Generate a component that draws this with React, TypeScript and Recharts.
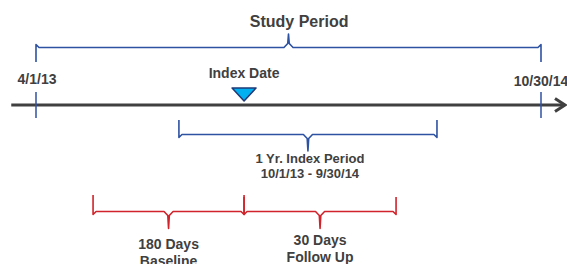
import { ComposedChart, Line, Scatter, XAxis, YAxis } from "recharts";

// timeline positions are in % of the study period (not to scale)
const endDates = ["4/1/13", "10/30/14"];
const endPos = [0, 100];

const indexDateLabel = "Index Date";
const indexDatePos = 41.2;

const periodTitles = ["Study Period", "1 Yr. Index Period", "180 Days", "30 Days"];
const periodSubtitles = ["", "10/1/13 - 9/30/14", "Baseline", "Follow Up"];
const periodStart = [0, 28.3, 11.3, indexDatePos];
const periodEnd = [100, 79.4, indexDatePos, 71.3];

const W = 567;
const H = 264;
const PX = 5.05; // pixels per timeline unit
const X0 = 36; // pixel of 0%
const X_DOMAIN: [number, number] = [-X0 / PX, (W - X0) / PX];

const INK = "#404040";
const BLUE = "#2E52A2";
const RED = "#D0232B";
const FONT = "'Liberation Sans', Arial, sans-serif";

const AXIS_Y = 105;
// tip, bar, cusp, label row, font, colour for each period brace
const braceRows = [
  { tip: 62, bar: 47.5, cusp: 34, label: 21, color: BLUE, dx: 2.1, size: 16, gap: 17 },
  { tip: 120, bar: 134.5, cusp: 151, label: 158.5, color: BLUE, dx: 0.4, size: 13, gap: 15 },
  { tip: 195, bar: 211.5, cusp: 228.5, label: 244, color: RED, dx: 0, size: 14, gap: 17 },
  { tip: 197, bar: 211.5, cusp: 228.5, label: 240, color: RED, dx: 0, size: 14, gap: 17 },
];

function bracePoints(start: number, end: number, tip: number, bar: number, cusp: number) {
  const dir = cusp < bar ? -1 : 1;
  const mid = (start + end) / 2;
  const r = 0.6;
  return [
    { x: start, y: tip },
    { x: start, y: bar + dir * 3 },
    { x: start + r, y: bar },
    { x: mid - 0.9, y: bar },
    { x: mid - 0.15, y: bar + dir * 4 },
    { x: mid, y: cusp },
    { x: mid + 0.15, y: bar + dir * 4 },
    { x: mid + 0.9, y: bar },
    { x: end - r, y: bar },
    { x: end, y: bar + dir * 3 },
    { x: end, y: tip },
  ];
}

function textShape(lines: string[], size: number, gap: number) {
  return (props: any) => (
    <text
      x={props.cx}
      y={props.cy}
      textAnchor="middle"
      fontSize={size}
      fontWeight="bold"
      fill={INK}
      fontFamily={FONT}
    >
      {lines.map((l, i) => (
        <tspan key={i} x={props.cx} dy={i === 0 ? "0.35em" : gap}>
          {l}
        </tspan>
      ))}
    </text>
  );
}

const arrowShape = (props: any) => (
  <path
    d={`M${props.cx - 10},${props.cy - 6.5} L${props.cx},${props.cy} L${props.cx - 10},${props.cy + 6.5}`}
    fill="none"
    stroke={INK}
    strokeWidth={3}
  />
);

const triangleShape = (props: any) => (
  <polygon
    points={`${props.cx - 12},${props.cy - 6.5} ${props.cx + 12},${props.cy - 6.5} ${props.cx},${props.cy + 6.5}`}
    fill="#00B0F0"
    stroke="#1F3A78"
    strokeWidth={1.5}
    strokeLinejoin="round"
  />
);

export default function App() {
  const axisStart = -4.9;
  const axisEnd = (565 - X0) / PX;

  return (
    <div style={{ position: "absolute", left: 0, top: 0, width: W, height: H, background: "#fff" }}>
      <ComposedChart width={W} height={H} margin={{ top: 0, right: 0, bottom: 0, left: 0 }}>
        <XAxis type="number" dataKey="x" domain={X_DOMAIN} allowDataOverflow hide />
        <YAxis type="number" dataKey="y" domain={[0, H]} reversed allowDataOverflow hide />

        <Line
          data={[
            { x: axisStart, y: AXIS_Y },
            { x: axisEnd - 0.3, y: AXIS_Y },
          ]}
          dataKey="y"
          stroke={INK}
          strokeWidth={3}
          dot={false}
          activeDot={false}
          isAnimationActive={false}
        />
        <Scatter data={[{ x: axisEnd, y: AXIS_Y }]} shape={arrowShape} isAnimationActive={false} />

        {endPos.map((p, i) => (
          <Line
            key={"tick" + i}
            data={[
              { x: p, y: 92 },
              { x: p, y: 118 },
            ]}
            dataKey="y"
            stroke={BLUE}
            strokeWidth={1.5}
            dot={false}
            activeDot={false}
            isAnimationActive={false}
          />
        ))}

        {periodTitles.map((t, i) => (
          <Line
            key={"brace" + i}
            data={bracePoints(periodStart[i], periodEnd[i], braceRows[i].tip, braceRows[i].bar, braceRows[i].cusp)}
            dataKey="y"
            stroke={braceRows[i].color}
            strokeWidth={1.6}
            strokeLinejoin="round"
            dot={false}
            activeDot={false}
            isAnimationActive={false}
          />
        ))}

        <Scatter data={[{ x: indexDatePos, y: 94.5 }]} shape={triangleShape} isAnimationActive={false} />

        {endDates.map((d, i) => (
          <Scatter
            key={"date" + i}
            data={[{ x: endPos[i] + (i === 0 ? 0.2 : 0), y: i === 0 ? 79 : 81 }]}
            shape={textShape([d], 14, 0)}
            isAnimationActive={false}
          />
        ))}

        <Scatter
          data={[{ x: indexDatePos, y: 73 }]}
          shape={textShape([indexDateLabel], 14, 0)}
          isAnimationActive={false}
        />

        {periodTitles.map((t, i) => (
          <Scatter
            key={"label" + i}
            data={[{ x: (periodStart[i] + periodEnd[i]) / 2 + braceRows[i].dx, y: braceRows[i].label }]}
            shape={textShape(
              periodSubtitles[i] ? [t, periodSubtitles[i]] : [t],
              braceRows[i].size,
              braceRows[i].gap
            )}
            isAnimationActive={false}
          />
        ))}
      </ComposedChart>
    </div>
  );
}
